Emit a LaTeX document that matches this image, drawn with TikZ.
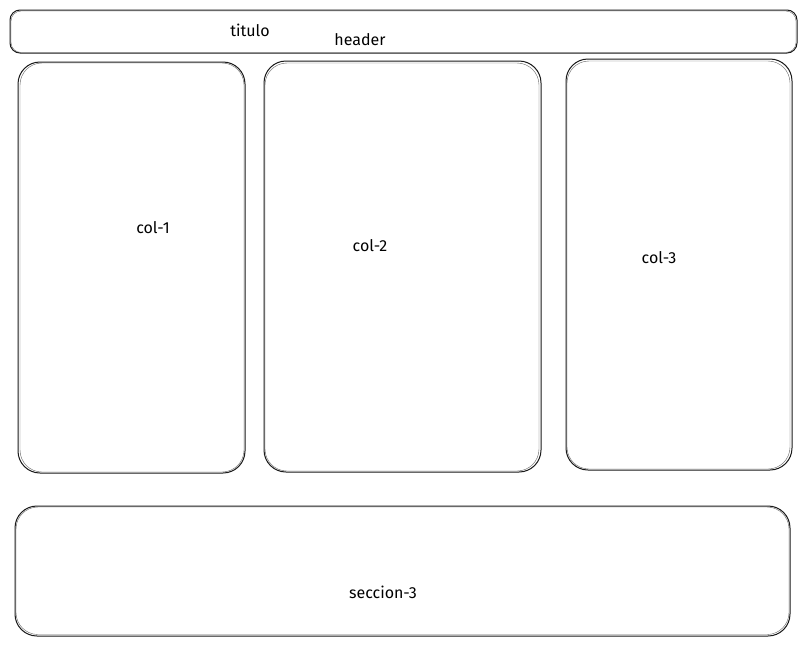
\documentclass[tikz,border=0pt]{standalone}
\usepackage{fontspec}
\setmainfont{Fira Sans}
\begin{document}
\begin{tikzpicture}[x=1pt,y=-1pt,
  sketchbox/.style={draw=black!90,line width=1pt,rounded corners=#1,inner sep=0pt},
  sketchbox/.default=22pt,
  thinline/.style={draw=black!60,line width=0.4pt,rounded corners=#1},
  thinline/.default=22pt,
  lbl/.style={font=\fontsize{16}{18}\selectfont,inner sep=1pt}]
\useasboundingbox[fill=white] (0,0) rectangle (808,646);
% header
\draw[sketchbox=10pt] (10,10) rectangle (797,53);
\draw[thinline=10pt] (11,11) rectangle (796,52.5);
\node[lbl] (titulo) at (250,30) {titulo};
\node[lbl] (header) at (360,40) {header};
% columns
\draw[sketchbox] (18,62) rectangle (245,473);
\draw[thinline] (20,63) rectangle (244,472);
\node[lbl] (col1) at (153,228) {col-1};
\draw[sketchbox] (264,61) rectangle (541,472);
\draw[thinline] (265,63) rectangle (539,471);
\node[lbl] (col2) at (370,246) {col-2};
\draw[sketchbox] (566,59) rectangle (792,470);
\draw[thinline] (567,61) rectangle (790,469);
\node[lbl] (col3) at (659,258) {col-3};
% section
\draw[sketchbox] (15,506) rectangle (790,636);
\draw[thinline] (16,507) rectangle (789,634.5);
\node[lbl] (sec3) at (383,592) {seccion-3};
\end{tikzpicture}
\end{document}
